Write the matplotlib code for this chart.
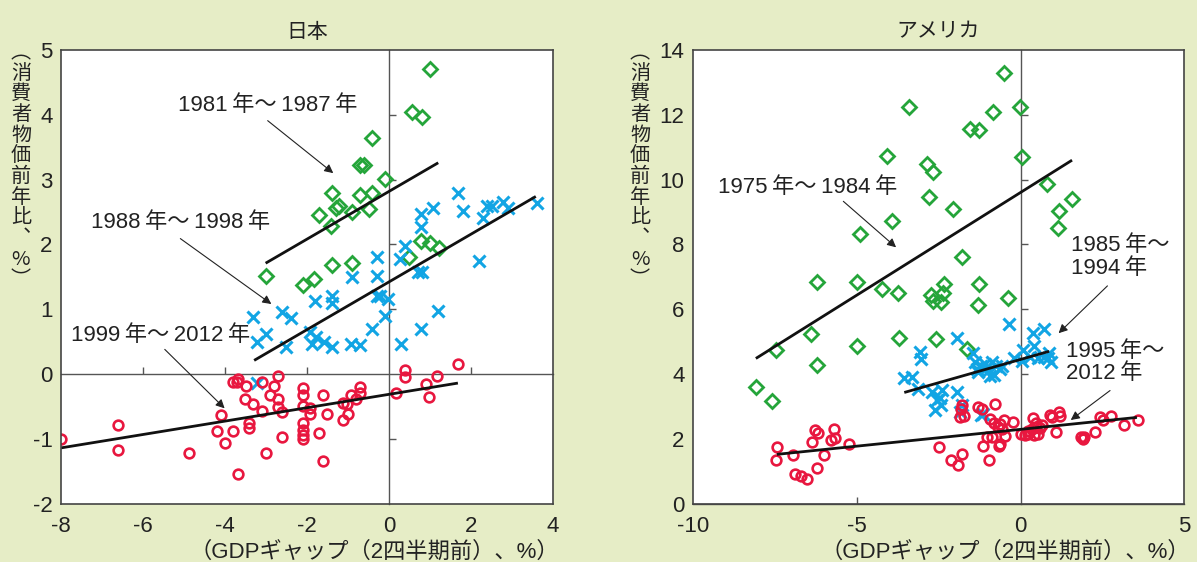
import matplotlib
matplotlib.use('Agg')
import matplotlib.pyplot as plt

plt.rcParams['font.family'] = ['Liberation Sans', 'Noto Sans CJK JP']
plt.rcParams['axes.unicode_minus'] = False

# ---- Japan ----
# 1981-1987
jp_a_x = [1.01, 0.57, 0.80, -0.41, -0.72, -0.61, -0.09, -1.39, -0.72, -0.41, -1.70, -1.30, -1.21,
          -0.91, -0.50, -1.41, 0.79, 1.01, 1.21, 0.48, -1.39, -0.91, -3.01, -2.10, -1.82]
jp_a_y = [4.71, 4.04, 3.97, 3.64, 3.22, 3.22, 3.01, 2.80, 2.76, 2.80, 2.45, 2.56, 2.60,
          2.50, 2.54, 2.28, 2.05, 2.02, 1.95, 1.80, 1.68, 1.72, 1.51, 1.38, 1.47]
# 1988-1998
jp_b_x = [-3.32, -3.01, -3.21, -2.61, -2.40, -2.51, -1.81, -1.39, -1.39, -1.92, -1.89, -1.77, -1.58,
          -1.39, -0.91, -0.93, -0.72, -0.30, -0.30, -0.30, -0.21, -0.02, -0.11, -0.41, 0.26, 0.38,
          0.29, 0.71, 0.80, 0.79, 0.79, 1.08, 1.20, 0.79, 1.69, 1.80, 2.19, 2.29, 2.38, 2.50, 2.79,
          2.90, 3.60, -3.21]
jp_b_y = [0.88, 0.61, 0.49, 0.96, 0.86, 0.42, 1.12, 1.20, 1.09, 0.65, 0.46, 0.57, 0.49,
          0.42, 1.50, 0.46, 0.45, 1.81, 1.52, 1.20, 1.20, 1.16, 0.90, 0.70, 1.77, 1.98,
          0.46, 1.58, 1.58, 2.47, 2.27, 2.56, 0.97, 0.70, 2.80, 2.52, 1.75, 2.41, 2.60, 2.60, 2.66,
          2.56, 2.64, -0.14]
# 1999-2012
jp_c_x = [-8.00, -6.60, -6.60, -4.88, -4.10, -4.20, -4.00, -3.80, -3.69, -3.81, -3.72, -3.68, -3.50,
          -3.52, -3.31, -3.41, -3.41, -3.11, -3.09, -3.01, -2.91, -2.81, -2.71, -2.70, -2.70, -2.60,
          -2.60, -2.11, -2.11, -2.11, -2.11, -2.11, -2.11, -2.09, -1.92, -1.92, -1.61, -1.51, -1.71,
          -1.61, -1.12, -1.02, -1.00, -1.12, -0.92, -0.81, -0.71, -0.70, 0.18, 0.39, 0.39, 0.89,
          0.97, 1.18, 1.68]
jp_c_y = [-1.01, -0.79, -1.17, -1.22, -0.63, -0.88, -1.07, -0.88, -1.54, -0.12, -0.12, -0.07, -0.18,
          -0.38, -0.47, -0.75, -0.84, -0.57, -0.12, -1.22, -0.32, -0.19, -0.03, -0.38, -0.51, -0.58,
          -0.97, -0.21, -0.32, -0.50, -0.75, -0.87, -0.94, -1.01, -0.53, -0.61, -0.33, -0.61, -0.91,
          -1.35, -0.45, -0.47, -0.61, -0.71, -0.33, -0.38, -0.20, -0.29, -0.29, 0.06, -0.04, -0.16,
          -0.35, -0.03, 0.16]
jp_fit_a_x, jp_fit_a_y = [-3.01, 1.20], [1.71, 3.26]
jp_fit_b_x, jp_fit_b_y = [-3.29, 3.58], [0.21, 2.74]
jp_fit_c_x, jp_fit_c_y = [-8.00, 1.68], [-1.14, -0.14]

# ---- USA ----
# 1975-1984
us_a_x = [-0.52, -3.41, -0.03, -0.85, -1.55, -1.28, -4.09, 0.03, -2.87, -2.66, 0.81, 1.57, -2.80,
          -2.07, 1.16, 1.13, -3.93, -4.90, -1.78, -6.20, -4.99, -4.22, -3.74, -2.73, -2.66, -2.35,
          -2.38, -2.42, -1.28, -1.31, -0.38, -6.40, -5.00, -3.72, -2.59, -1.65, -7.47, -6.20, -8.08,
          -7.59]
us_a_y = [13.30, 12.23, 12.23, 12.08, 11.56, 11.53, 10.73, 10.71, 10.48, 10.24, 9.85, 9.41, 9.46,
          9.10, 9.02, 8.52, 8.71, 8.33, 7.61, 6.84, 6.84, 6.62, 6.50, 6.45, 6.25, 6.77,
          6.50, 6.22, 6.77, 6.12, 6.34, 5.23, 4.87, 5.11, 5.09, 4.78, 4.73, 4.28, 3.60,
          3.18]
# 1985-1994
us_b_x = [-0.35, 0.37, 0.70, -1.95, -3.08, -3.05, -3.55, -3.31, -3.14, -2.71, -2.41, -1.95, -2.47,
          -2.62, -2.42, -1.86, -1.78, -1.16, -1.45, -1.40, -1.34, -1.22, -1.10, -0.99, -0.93, -0.81,
          -0.76, -0.64, -0.87, -0.58, -0.20, 0.03, 0.08, 0.29, 0.41, 0.52, 0.70, 0.87, 0.93, 0.85,
          -1.20, -2.55, -1.30, -1.05]
us_b_y = [5.53, 5.26, 5.39, 5.11, 4.67, 4.45, 3.87, 3.90, 3.54, 3.43, 3.51, 3.43, 3.26,
          2.88, 3.04, 2.82, 3.04, 2.77, 4.65, 4.37, 4.15, 4.26, 4.32, 4.09, 3.93, 3.98,
          4.26, 4.15, 4.37, 4.26, 4.48, 4.40, 4.73, 4.54, 4.87, 4.48, 4.54, 4.65, 4.37, 4.48,
          2.74, 3.21, 4.05, 4.20]
# 1995-2012
us_c_x = [-7.44, -7.48, -6.95, -6.90, -6.69, -6.51, -6.37, -6.26, -6.19, -6.22, -6.01, -5.79, -5.70,
          -5.67, -5.23, -2.50, -2.12, -1.92, -1.80, -1.78, -1.83, -1.74, -1.86, -1.30, -1.19, -0.79,
          -0.97, -1.14, -1.02, -0.87, -0.66, -0.62, -0.47, -0.93, -0.81, -0.70, -0.52, -0.23, -0.64,
          -0.58, 0.00, 0.12, 0.23, 0.35, 0.41, 0.47, 0.52, 0.58, 0.64, 0.38, 0.47, 0.23, 0.91,
          0.97, 1.16, 1.19, 1.08, 1.83, 1.90, 1.94, 2.27, 2.41, 2.52, 2.76, 3.17, 3.58]
us_c_y = [1.75, 1.36, 1.49, 0.92, 0.85, 0.75, 1.91, 2.27, 2.18, 1.11, 1.49, 1.96, 2.29,
          2.03, 1.83, 1.75, 1.36, 1.18, 1.52, 3.04, 2.93, 2.69, 2.66, 2.97, 2.93, 3.07,
          1.34, 1.77, 2.05, 2.05, 1.79, 1.85, 2.10, 2.60, 2.48, 2.35, 2.57, 2.51, 2.45,
          2.29, 2.15, 2.12, 2.25, 2.30, 2.12, 2.35, 2.16, 2.33, 2.43, 2.65, 2.48, 2.16, 2.74,
          2.66, 2.84, 2.69, 2.21, 2.05, 1.99, 2.07, 2.21, 2.66, 2.58, 2.69, 2.43, 2.58]
us_fit_a_x, us_fit_a_y = [-8.08, 1.57], [4.48, 10.60]
us_fit_b_x, us_fit_b_y = [-3.55, 0.87], [3.43, 4.70]
us_fit_c_x, us_fit_c_y = [-7.44, 3.55], [1.52, 2.66]

BG = '#e6edc6'
GREEN = '#25a53a'
BLUE = '#12a5e4'
RED = '#e8173f'
FRAME = '#444444'
TXT = '#222222'
SP = '\u2009'


def make_panel(fig, rect, xlim, ylim, xticks, yticks, inner_xt, inner_yt):
    # back axes: white face, cross lines at zero with inward ticks
    back = fig.add_axes(rect, zorder=0)
    back.set_facecolor('white')
    back.set_xlim(xlim)
    back.set_ylim(ylim)
    for s in ['top', 'right']:
        back.spines[s].set_visible(False)
    back.spines['left'].set_position(('data', 0))
    back.spines['bottom'].set_position(('data', 0))
    for s in ['left', 'bottom']:
        back.spines[s].set_color('#555555')
        back.spines[s].set_linewidth(1.0)
    back.set_xticks(inner_xt)
    back.set_yticks(inner_yt)
    back.tick_params(direction='in', length=5, width=1, color='#555555',
                     labelleft=False, labelbottom=False)
    # front axes: frame, tick labels, data
    ax = fig.add_axes(rect, zorder=1)
    ax.patch.set_alpha(0)
    ax.set_xlim(xlim)
    ax.set_ylim(ylim)
    ax.set_xticks(xticks)
    ax.set_yticks(yticks)
    ax.tick_params(length=0, labelsize=16, colors=TXT)
    ax.tick_params(axis='y', pad=6)
    ax.tick_params(axis='x', pad=9)
    for s in ax.spines.values():
        s.set_color(FRAME)
        s.set_linewidth(1.2)
    return ax


def draw_series(ax, a, b, c, fa, fb, fc):
    ax.plot(a[0], a[1], 'D', ms=7.2, mfc='none', mec=GREEN, mew=2.0, ls='none')
    ax.plot(b[0], b[1], 'x', ms=8.5, mec=BLUE, mew=2.2, ls='none')
    ax.plot(c[0], c[1], 'o', ms=7.0, mfc='none', mec=RED, mew=1.9, ls='none')
    for fx, fy in (fa, fb, fc):
        ax.plot(fx, fy, color='#111111', lw=2.0, solid_capstyle='butt')


def label(ax, text, xy_text, start, end, ha='center', va='center'):
    ax.text(xy_text[0], xy_text[1], text, fontsize=16, ha=ha, va=va,
            color=TXT, linespacing=1.1)
    ax.annotate('', xy=end, xytext=start,
                arrowprops=dict(arrowstyle='-|>', color=TXT, lw=0.8,
                                mutation_scale=13, shrinkA=0, shrinkB=0))


def span(a, b):
    return f'{a}{SP}年～{SP}{b}{SP}年'


fig = plt.figure(figsize=(11.97, 5.62), dpi=100)
fig.patch.set_facecolor(BG)

# Japan
ax1 = make_panel(fig, [0.0510, 0.1039, 0.4110, 0.8071], (-8, 4), (-2, 5),
                 range(-8, 5, 2), range(-2, 6),
                 [-6, -4, -2, 2], [-1, 1, 2, 3, 4])
draw_series(ax1, (jp_a_x, jp_a_y), (jp_b_x, jp_b_y), (jp_c_x, jp_c_y),
            (jp_fit_a_x, jp_fit_a_y), (jp_fit_b_x, jp_fit_b_y), (jp_fit_c_x, jp_fit_c_y))
label(ax1, span(1981, 1987), (-2.97, 4.15), (-2.96, 3.91), (-1.36, 3.10))
label(ax1, span(1988, 1998), (-5.09, 2.34), (-5.09, 2.09), (-2.87, 1.08))
label(ax1, span(1999, 2012), (-5.58, 0.60), (-5.47, 0.38), (-4.01, -0.53))
ax1.set_title('日本', fontsize=15, pad=9, color=TXT)

# USA
ax2 = make_panel(fig, [0.5789, 0.1039, 0.4106, 0.8071], (-10, 5), (0, 14),
                 [-10, -5, 0, 5], range(0, 15, 2),
                 [-5], [2, 4, 6, 8, 10, 12])
draw_series(ax2, (us_a_x, us_a_y), (us_b_x, us_b_y), (us_c_x, us_c_y),
            (us_fit_a_x, us_fit_a_y), (us_fit_b_x, us_fit_b_y), (us_fit_c_x, us_fit_c_y))
label(ax2, span(1975, 1984), (-6.51, 9.77), (-5.41, 9.33), (-3.80, 7.91))
label(ax2, f'1985{SP}年～\n1994{SP}年', (1.55, 7.62), (2.65, 6.72), (1.16, 5.26), ha='left')
label(ax2, f'1995{SP}年～\n2012{SP}年', (1.40, 4.35), (2.73, 3.49), (1.53, 2.58), ha='left')
ax2.set_title('アメリカ', fontsize=15, pad=9, color=TXT)

# axis labels
ylab = '\n'.join(['︵', '消', '費', '者', '物', '価', '前', '年', '比', '︑', '%', '︶'])
for xpos in (21 / 1197, 640 / 1197):
    fig.text(xpos, 1 - 42 / 562, ylab, fontsize=14.5, ha='center', va='top',
             linespacing=0.98, color=TXT,
             family=['Noto Sans CJK JP', 'Liberation Sans'])
for ax in (ax1, ax2):
    ax.text(1.012, -0.107, '（GDPギャップ（2四半期前）、%）', transform=ax.transAxes,
            fontsize=16, ha='right', va='center', color=TXT)

fig.savefig('out.png', dpi=100, facecolor=BG)
